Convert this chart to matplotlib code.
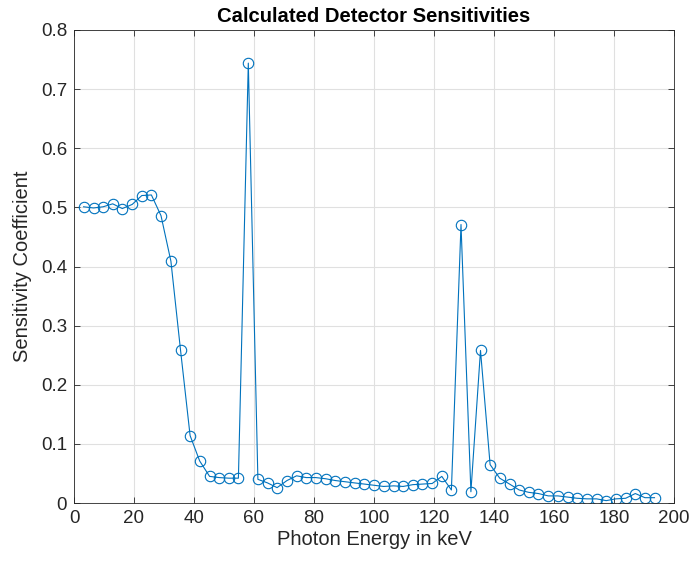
import numpy as np
import matplotlib
matplotlib.use("Agg")
import matplotlib.pyplot as plt

# photon energy bins (keV) and sensitivity
energy_kev = [3.2, 6.5, 9.7, 12.9, 16.1, 19.4, 22.6, 25.8, 29.0, 32.3,
              35.5, 38.7, 41.9, 45.2, 48.4, 51.6, 54.8, 58.1, 61.3, 64.5,
              67.7, 71.0, 74.2, 77.4, 80.6, 83.9, 87.1, 90.3, 93.5, 96.8,
              100.0, 103.2, 106.5, 109.7, 112.9, 116.1, 119.4, 122.6, 125.8, 129.0,
              132.3, 135.5, 138.7, 141.9, 145.2, 148.4, 151.6, 154.8, 158.1, 161.3,
              164.5, 167.7, 171.0, 174.2, 177.4, 180.6, 183.9, 187.1, 190.3, 193.5]
sensitivity = [0.501, 0.499, 0.501, 0.506, 0.498, 0.505, 0.520, 0.521, 0.486, 0.409,
               0.259, 0.114, 0.071, 0.045, 0.043, 0.042, 0.042, 0.744, 0.040, 0.034,
               0.026, 0.038, 0.046, 0.043, 0.043, 0.041, 0.038, 0.036, 0.034, 0.032,
               0.030, 0.028, 0.029, 0.028, 0.031, 0.032, 0.033, 0.045, 0.022, 0.471,
               0.019, 0.258, 0.065, 0.042, 0.032, 0.022, 0.018, 0.016, 0.012, 0.012,
               0.010, 0.008, 0.007, 0.007, 0.004, 0.007, 0.008, 0.016, 0.009, 0.009]
ytick_labels = ['0', '0.1', '0.2', '0.3', '0.4', '0.5', '0.6', '0.7', '0.8']

plt.rcParams['font.family'] = ['Liberation Sans', 'DejaVu Sans']

fig = plt.figure(figsize=(6.89, 5.63), dpi=100)
ax = fig.add_axes([74/689, 60/563, 600/689, 473/563])

ax.plot(energy_kev, sensitivity, '-o', color='#0072BD', lw=0.8,
        markersize=7.5, markerfacecolor='none', markeredgewidth=0.8)

ax.set_xlim(0, 200)
ax.set_ylim(0, 0.8)
ax.set_xticks(np.arange(0, 201, 20))
ax.set_yticks(np.arange(0, 0.81, 0.1))
ax.set_yticklabels(ytick_labels)
ax.grid(True, color='#e0e0e0', lw=0.8)
ax.set_axisbelow(True)
ax.tick_params(direction='in', length=4, width=0.6, labelsize=13.5, colors='#262626',
               pad=5, top=True, right=True, labeltop=False, labelright=False)
for s in ax.spines.values():
    s.set_color('#262626')
    s.set_linewidth(0.6)

ax.set_xlabel('Photon Energy in keV', fontsize=14.5, color='#262626', labelpad=2)
ax.set_ylabel('Sensitivity Coefficient', fontsize=14.5, color='#262626', labelpad=6)
ax.set_title('Calculated Detector Sensitivities', fontsize=14.6, fontweight='bold', pad=6)

fig.savefig('out.png', dpi=100)
